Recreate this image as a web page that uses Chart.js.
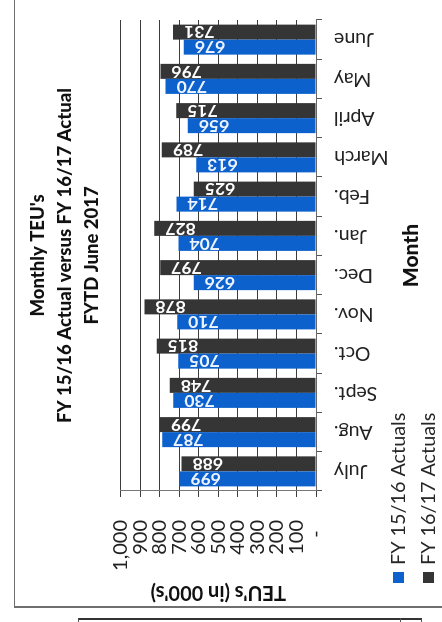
<!DOCTYPE html>
<html>
<head>
<meta charset="utf-8">
<script src="https://cdn.jsdelivr.net/npm/chart.js@4.4.1/dist/chart.umd.min.js"></script>
<style>
  html, body { margin: 0; padding: 0; background: #fff; width: 442px; height: 622px; overflow: hidden; }
  #frame { position: absolute; left: 14px; top: -2px; width: 440px; height: 610px; box-sizing: border-box;
           border-left: 1px solid #6f6f6f; border-bottom: 2px solid #6f6f6f; }
  /* chart is laid out as a column chart and turned a quarter turn */
  #wrap { position: absolute; left: 0; top: 0; width: 605px; height: 422px;
          transform-origin: 0 0; transform: translate(15px, 605px) rotate(-90deg); }
  #below { position: absolute; left: 78px; top: 618px; width: 344px; height: 10px; box-sizing: border-box;
           border-top: 2px solid #333; border-left: 1px solid #555; border-right: 1px solid #555; }
  #below-div { position: absolute; left: 400px; top: 618px; width: 1px; height: 6px; background: #555; }
</style>
</head>
<body>
<div id="frame"></div>
<div id="wrap"><canvas id="teu" width="605" height="422"></canvas></div>
<div id="below"></div>
<div id="below-div"></div>
<script>
// Monthly TEU volumes (thousands), fiscal year July -> June
const months = ['July', 'Aug.', 'Sept.', 'Oct.', 'Nov.', 'Dec.', 'Jan.', 'Feb.', 'March', 'April', 'May', 'June'];
const fy1516 = [699, 787, 730, 705, 710, 626, 704, 714, 613, 656, 770, 676];
const fy1617 = [688, 799, 748, 815, 878, 797, 827, 625, 789, 715, 796, 731];
const seriesNames = ['FY 15/16 Actuals', 'FY 16/17 Actuals'];
const titleLines = ["Monthly TEU's", 'FY 15/16 Actual versus FY 16/17 Actual', 'FYTD June 2017'];
const axisTitles = { value: "TEU's (in 000's)", category: 'Month' };

const BLUE = '#0d61cc';
const DARK = '#353535';
const FONT = 'Lato, "Open Sans", sans-serif';

// value printed inside the end of each bar, turned with the bar
const barValueLabels = {
  id: 'barValueLabels',
  afterDatasetsDraw(chart) {
    const ctx = chart.ctx;
    chart.data.datasets.forEach((ds, i) => {
      const meta = chart.getDatasetMeta(i);
      meta.data.forEach((bar, j) => {
        ctx.save();
        ctx.translate(bar.x, bar.y + 11);
        ctx.rotate(-Math.PI / 2);
        ctx.font = 'bold 17.5px ' + FONT;
        ctx.fillStyle = ds.labelColor;
        ctx.textAlign = 'right';
        ctx.textBaseline = 'middle';
        ctx.fillText(String(ds.data[j]), 0, 0);
        ctx.restore();
      });
    });
  }
};

// two-row legend sharing the band of the category title
const stackedLegend = {
  id: 'stackedLegend',
  afterDraw(chart, args, opts) {
    const ctx = chart.ctx;
    ctx.save();
    chart.data.datasets.forEach((ds, i) => {
      const y = opts.top + i * opts.rowGap;
      ctx.fillStyle = ds.backgroundColor;
      ctx.fillRect(opts.left, y - 6, 11, 11);
      ctx.fillStyle = '#262626';
      ctx.font = opts.size + 'px ' + FONT;
      ctx.textAlign = 'left';
      ctx.textBaseline = 'middle';
      ctx.fillText(ds.label, opts.left + 18, y);
    });
    ctx.restore();
  }
};

new Chart(document.getElementById('teu'), {
  type: 'bar',
  data: {
    labels: months,
    datasets: [
      { label: seriesNames[0], data: fy1516, backgroundColor: BLUE, labelColor: '#eef4ff',
        barPercentage: 1, categoryPercentage: 0.765 },
      { label: seriesNames[1], data: fy1617, backgroundColor: DARK, labelColor: '#ffffff',
        barPercentage: 1, categoryPercentage: 0.765 }
    ]
  },
  options: {
    responsive: false,
    animation: false,
    devicePixelRatio: 1,
    layout: { padding: { top: 0, left: 0, right: 20, bottom: 0 } },
    plugins: {
      legend: { display: false },
      tooltip: { enabled: false },
      title: {
        display: true, text: titleLines, fullSize: false, color: '#111',
        font: { family: FONT, size: 18.5, weight: '900', lineHeight: 1.46 },
        padding: { top: 9.5, bottom: 15 }
      },
      stackedLegend: { left: 22, top: 384, rowGap: 30, size: 19.8 }
    },
    scales: {
      x: {
        grid: { drawOnChartArea: false, tickLength: 6, color: '#555' },
        border: { color: '#666' },
        ticks: { autoSkip: false, minRotation: 90, maxRotation: 90, padding: 12,
                 color: '#222', font: { family: FONT, size: 19.5 } },
        title: { display: true, text: axisTitles.category, color: '#111',
                 font: { family: FONT, size: 21, weight: '900' }, padding: { top: 0, bottom: 13 } },
        afterFit(s) { s.height = 121; }
      },
      y: {
        min: 0, max: 1000,
        grid: { color: '#3c3c3c', tickLength: 6 },
        border: { color: '#777' },
        ticks: { stepSize: 100, autoSkip: false, padding: 23, color: '#222',
                 font: { family: FONT, size: 20 },
                 callback: v => v === 0 ? '-  ' : v.toLocaleString('en-US') },
        title: { display: true, text: axisTitles.value, color: '#111',
                 font: { family: FONT, size: 20, weight: 'bold' }, padding: { top: 1, bottom: 0 } },
        afterFit(s) { s.width = 114; }
      }
    }
  },
  plugins: [barValueLabels, stackedLegend]
});
</script>
</body>
</html>
